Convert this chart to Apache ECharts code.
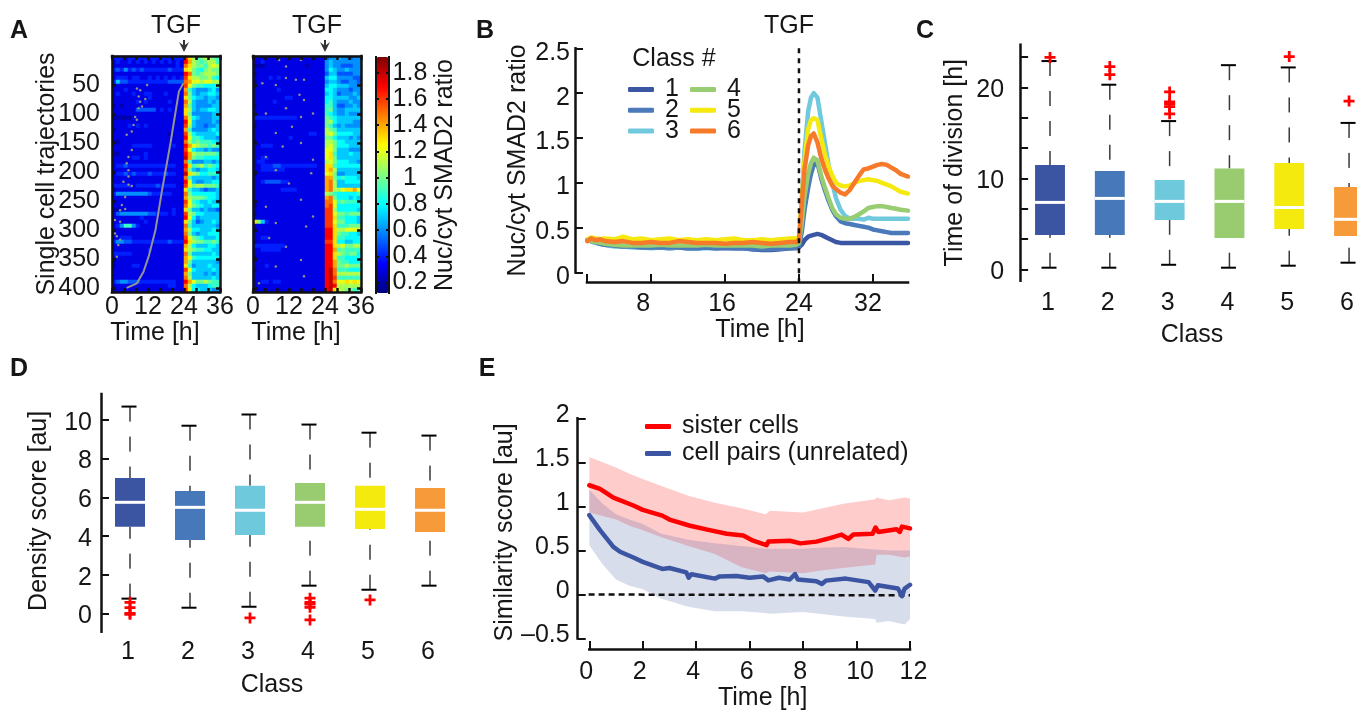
<!DOCTYPE html>
<html><head><meta charset="utf-8">
<style>html,body{margin:0;padding:0;background:#fff}#c{width:1357px;height:712px}</style>
<script src="https://cdn.jsdelivr.net/npm/echarts@6/dist/echarts.min.js"></script>
</head><body><div id="c"></div>
<script>
// ---------- DATA ----------
// Heat map rows: one char per 4/3 h bin, '1'=0.1 ... '9'=0.9, 'A'=1.0 ... 'J'=1.9
const heatLeft = [
"444344444444444444GDB9ABBA9","343343434343434343HEBA9ABB9","333333333333333343FDBAA9BCB","454645454444445444DCA98ABAA",
"333333333333333333HFA9ABBBA","344434433434343434GDBBAAB98","475544444444445555FECCBCCBB","333333333333333333GCA998889",
"333433333333333333E97666786","343334334433343333FA7677887","333333333433333333DA8776776","333333434333334333FB7666767",
"232333333333333333EA7666677","333333555553434333DB7677887","333333333333333333DA6666677","222223333333333333FB8766677",
"333333333333333333HC7666676","333343434333333333GB7665667","233333333333333333E96666787","333333333333332333GB8777778",
"333333333333333333HC9987776","223333333333333333FB9A99987","333334444433333433HECBAA9A9","333333333333333333GC8776766",
"223333334333333333HEBAAAAA9","333334434333333333IEA998888","333333333333333333F96667767","344544444444444433HD9AB9A98",
"333333333333333333GA7677887","344545444544454433IDBA88998","333333333333333333F97777767","333333333333333333HC7667788",
"444443444445444433GCABBAAA9","233333333333333333D97765667","466666666544444333FA8888887","333333333333333333EBAAA9887",
"333333333333333333GC9877876","333333333333333333FCA987788","223333333333333433DA7767665","356666666554443433GBA887777",
"333333343333333333HC8677777","333333334333333333DA7567787","346996433333333333F97777776","333333333333333333EB8877787",
"233333333333333333FA7677888","334443333333333333GCA987778","466554444444445444HDBAA99A9","333333333333333333EB8777887",
"333333333433333333DBA998877","444443333333333333FA7777787","333333333333333333EC9888888","233333333333333333EA7777776",
"233334433333333333D96777877","333333333333333333GC8777787","333333333333333333EA7776767","333333333333333333FB7777787",
"456655544444444433HECAABA99","333333333333334433FB8777899","333333333333333333GC8877766"];
const heatRight = [
"333333333333333333566766566","334333333333333333676666666","222333333333323333676655566","333333333333333333687667666",
"233333333333333333577555566","333343433333333333788666655","233333333333333333677655665","233333333333333333788777666",
"333333433333333333887666566","333333333333333333787566676","333333334433333333887777667","333334333333333333897666766",
"233333333333333333997556676","3333333333333333339A7667777","233333333333333333987667666","444444444443333333A98777777",
"333333333333333333AB8777766","233333333333333333A97676666","333333333333333333BA9777777","333333333333334433BCA888877",
"333333333433333333AA8777676","233333333333333333BBA887777","334443333333333333BCA888777","333333333333333333CCA777666",
"333333333333333333CD9777877","334433333333333333CDA777777","344333333333333333BCA888776","334445544444444433DD9888888",
"334444443333333333DEB777777","233333333333333333CDA667777","333333333333333333EEA898887","334555544333333333EFB778888",
"333333333333333333EFB777777","333333344443333333EFBBCDDEC","333333333333333333BA9888889","333333333333333333EFA888787",
"333333333333333333FFC9A9998","233333333333333333FGC888888","333333333333333333GGB888887","233333333333333333GGCAA9AAA",
"333333333333333333GGD998887","DA7433333333333333GGCAA8887","333333333333333333GGD999AAA","333333333333333333HHDBBCCCC",
"333333333333333333HHDA99887","334433333333333333HHD998888","233333333333333333GGD887788","444444443333333333HHDBCAABB",
"334444433333333333HHE9A9999","333333333333333333HHDBA9AA8","233333333333333333HHD998888","333333333333333333HHEA99888",
"333433333333333333HHEAABAAA","233333333333333333HIF999888","333333333333333333HIFBBBBBB","333333333333333333HIG999999",
"334434433333333333HIFCCDCDC","333333333333333333HIHBBBBBB","333333333333333333HIDBBAA99"];
const divisionCurve = [[4.9,400],[8.3,392],[10.5,372],[12.2,346],[14.5,300],[16.7,231],[19.5,150],[22.3,61],[23.8,47]];
const dotsLeft = [[8.3,56],[9.4,59],[11.7,50],[8.9,70],[11.1,74],[9.4,79],[10,87],[8.9,90],[7.7,105],[8.3,110],[7.2,119],[6.6,130],[4.9,136],[6.6,162],[5.5,174],[4.9,185],[5.5,197],[5.5,208],[3.8,217],[5.5,222],[6.6,224],[4.4,243],[3.3,257],[4.4,264],[2.7,266],[1,283],[2.7,286],[1,306],[1.6,311],[2.7,317],[2.1,326],[1.6,346]];
const dotsRight = [[8.7,7],[11,18],[16,7],[3.1,47],[7.6,50],[11,38],[14.3,41],[17,41],[15.5,67],[17,76],[11,90],[4.3,99],[16,105],[20,99],[13,122],[7.6,133],[16,150],[9.9,156],[4.3,174],[20,179],[7.6,197],[19.4,202],[12,220],[16,248],[4.3,260],[20,277],[7.6,288],[17.7,294],[5.4,314],[11,329],[16,352],[2,392],[17,380],[7.6,363]];
const colorbarTicks = [0.2,0.4,0.6,0.8,1,1.2,1.4,1.6,1.8];
const trajectoryTicks = [50,100,150,200,250,300,350,400];

const timesB = [1.1,1.5,2,2.5,3,4,5,6,7,8,9,10,11,12,13,14,15,16,17,18,19,20,21,22,23,23.7,24,24.3,24.6,25,25.3,25.6,26,26.4,26.8,27.2,27.6,28,28.5,29,29.5,30,30.5,31,31.5,32,32.5,33,33.5,34,34.5,35,35.8];
const class1 = [.36,.35,.33,.32,.31,.30,.29,.29,.28,.28,.28,.27,.28,.27,.27,.28,.27,.27,.27,.27,.26,.25,.25,.26,.27,.27,.28,.31,.36,.40,.41,.42,.43,.42,.40,.38,.36,.34,.33,.33,.33,.33,.33,.33,.33,.33,.33,.33,.33,.33,.33,.33,.33];
const class2 = [.36,.35,.34,.32,.31,.30,.29,.29,.28,.28,.28,.28,.28,.27,.27,.28,.27,.28,.27,.27,.26,.26,.26,.27,.27,.28,.29,.45,.70,.95,1.1,1.2,1.22,1.05,.92,.8,.7,.63,.57,.55,.54,.53,.52,.51,.50,.48,.47,.46,.45,.44,.44,.44,.44];
const class3 = [.36,.35,.33,.32,.31,.29,.29,.28,.28,.27,.28,.27,.28,.27,.27,.27,.27,.28,.27,.28,.27,.27,.27,.27,.28,.28,.3,.8,1.35,1.8,1.95,2.0,1.95,1.7,1.45,1.2,1.0,.83,.7,.63,.6,.6,.6,.59,.61,.6,.6,.6,.6,.6,.6,.6,.6];
const class4 = [.36,.35,.34,.33,.32,.31,.30,.30,.30,.30,.31,.30,.30,.30,.30,.31,.30,.30,.30,.30,.30,.29,.30,.30,.30,.31,.33,.55,.85,1.1,1.22,1.28,1.25,1.08,.95,.83,.72,.65,.61,.6,.6,.62,.65,.68,.72,.73,.74,.74,.73,.72,.71,.70,.69];
const class5 = [.37,.39,.38,.37,.38,.37,.40,.37,.38,.36,.37,.38,.36,.37,.36,.37,.36,.37,.38,.36,.36,.37,.36,.37,.38,.38,.4,.8,1.25,1.6,1.7,1.72,1.7,1.5,1.32,1.18,1.08,1.0,.97,.96,.97,1.0,1.02,1.03,1.04,1.03,1.02,1.0,.98,.96,.93,.9,.88];
const class6 = [.35,.38,.36,.37,.35,.34,.35,.33,.33,.34,.33,.33,.35,.34,.33,.33,.33,.32,.33,.33,.34,.33,.32,.33,.34,.34,.36,.75,1.15,1.42,1.52,1.55,1.45,1.28,1.15,1.05,.97,.93,.89,.87,.92,1.0,1.08,1.15,1.16,1.18,1.2,1.21,1.2,1.17,1.14,1.1,1.07];

const classes = [1,2,3,4,5,6];
const lineColors = ['#3b56a3','#4a7aba','#70c9dc','#98cd72','#f5e90f','#f7792a'];
const boxColors = ['#3b55a2','#4778ba','#6fc9dc','#99cc71','#f4ea0d','#f79a39'];
// Panel C: lower whisker, q1, median, q3, upper whisker
const divLo = [0.18,0.18,0.5,0.18,0.4,0.73];
const divQ1 = [3.77,3.77,5.42,3.44,4.43,3.66];
const divMed = [7.36,7.8,7.47,7.47,6.8,5.5];
const divQ3 = [11.47,10.8,9.82,11.1,11.7,9.05];
const divHi = [22.9,20.3,16.3,22.45,22.2,16.1];
const divOut = [[1,23.3],[2,22.3],[2,21.4],[3,19.5],[3,18.4],[3,18.2],[3,17.9],[3,17.1],[5,23.4],[6,18.5]];
// Panel D
const denLo = [0.76,0.29,0.34,1.43,1.22,1.43];
const denQ1 = [4.47,3.79,4.05,4.47,4.36,4.2];
const denMed = [5.74,5.48,5.33,5.74,5.38,5.33];
const denQ3 = [7.0,6.33,6.59,6.74,6.59,6.48];
const denHi = [10.69,9.7,10.28,9.76,9.34,9.19];
const denOut = [[1,.57],[1,.29],[1,0],[1,-.05],[3,-.24],[4,.78],[4,.57],[4,.47],[4,.31],[4,-.34],[5,.69]];
// Panel E
const sisterT = [0,.4,.9,1.65,2,2.73,3,3.77,4.5,5.14,5.76,6.13,6.63,6.7,7.5,7.9,8.5,9,9.44,9.69,9.88,10.6,10.71,10.81,11.5,11.62,11.7,12];
const sisterV = [1.24,1.2,1.1,1.01,.96,.895,.85,.78,.73,.69,.67,.61,.56,.6,.61,.58,.6,.64,.68,.63,.68,.69,.76,.71,.74,.71,.77,.75];
const pairT = [0,.4,.9,1.15,1.65,2,2.73,3,3.63,3.72,3.82,4.7,4.88,5.5,6,6.5,6.7,7.1,7.5,7.7,7.8,8.5,8.7,8.85,9.6,10.45,10.7,10.8,11.55,11.7,11.8,12];
const pairV = [.9,.73,.54,.485,.42,.37,.29,.3,.25,.19,.23,.18,.205,.21,.19,.205,.16,.19,.17,.23,.17,.15,.12,.157,.18,.14,.045,.105,.067,-.02,.067,.11];
const bandT = [0,.5,1,1.5,2,2.7,3.7,4.7,5.7,6.6,6.75,8,8.6,9.5,10.7,10.75,11.2,11.8,12];
const redTop = [1.56,1.50,1.44,1.37,1.31,1.23,1.12,1.04,.98,.91,.95,.93,.97,1.03,1.08,1.1,1.07,1.10,1.09];
const redBot = [.93,.89,.85,.78,.73,.65,.55,.46,.31,.24,.26,.24,.27,.3,.34,.45,.45,.42,.43];
const blueTop = [1.19,1.03,.91,.85,.80,.69,.62,.58,.55,.52,.52,.52,.53,.54,.51,.51,.5,.5,.5];
const blueBot = [.56,.34,.17,.1,.06,-.05,-.14,-.19,-.19,-.21,-.22,-.2,-.22,-.25,-.28,-.32,-.3,-.34,-.28];

// ---------- HELPERS ----------
const FONT = '"Liberation Sans", Arimo, Helvetica, Arial, sans-serif';
const FS = 25, INK = '#161616';
const zip = (a, b) => a.map((v, i) => [v, b[i]]);
const decode = c => { const i = '123456789ABCDEFGHIJ'.indexOf(c); return (i + 1) / 10; };
const heatData = rows => { const d = []; rows.forEach((r, y) => { for (let x = 0; x < r.length; x++) d.push([x, y, decode(r[x])]); }); return d; };
const range = n => Array.from({length: n}, (_, i) => i);
const hiddenAxis = (gridIndex, n, inverse) => ({type:'category', gridIndex, show:false, data:range(n), inverse:!!inverse});
const lbl = o => Object.assign({color:INK, fontFamily:FONT, fontSize:FS}, o);
const line = (w) => ({show:true, onZero:false, lineStyle:{color:'#111', width:w, cap:'square'}});
const nameStyle = (pad) => ({color:INK, fontFamily:FONT, fontSize:FS, padding:pad || 0});
const richPad = p => ({color:INK, fontFamily:FONT, fontSize:FS, padding:p});
// y tick label nudged down (+) or up (-) from its tick, as in the reference
const yRich = (shift, o) => Object.assign({color:INK, fontFamily:FONT, fontSize:FS,
  formatter:v => '{a|' + String(v).replace('-','\u2013') + '}',
  rich:{a:richPad(shift > 0 ? [shift*2,0,0,0] : [0,0,-shift*2,0])}}, o);

function frameX(grid, bottomOpts) {
  return [
    Object.assign({type:'value', gridIndex:grid, min:0, max:36, interval:4, position:'bottom', z:10, axisLine:line(2.5),
      axisTick:{show:true, inside:true, length:4, lineStyle:{color:'#111', width:2.5}}, splitLine:{show:false}}, bottomOpts),
    {type:'value', gridIndex:grid, min:0, max:36, interval:4, position:'top', z:10, axisLine:line(2.5),
      axisTick:{show:true, inside:true, length:4, lineStyle:{color:'#111', width:2.5}}, axisLabel:{show:false}, splitLine:{show:false}}
  ];
}
function frameY(grid, leftOpts) {
  const t = {show:true, inside:true, length:4, customValues:trajectoryTicks, lineStyle:{color:'#111', width:2.5}};
  return [
    Object.assign({type:'value', gridIndex:grid, min:0, max:407, inverse:true, position:'left', z:10, axisLine:line(2.5), axisTick:t, splitLine:{show:false}}, leftOpts),
    {type:'value', gridIndex:grid, min:0, max:407, inverse:true, position:'right', z:10, axisLine:line(2.5), axisTick:t, axisLabel:{show:false}, splitLine:{show:false}}
  ];
}
function boxRender(colors) {
  return function (params, api) {
    const c = api.value(0);
    const x = api.coord([c, 0])[0];
    const y = k => api.coord([c, api.value(k)])[1];
    const w = api.size([1, 0])[0] * 0.5;
    const lo = y(1), q1 = y(2), med = y(3), q3 = y(4), hi = y(5);
    const dash = {stroke:'#3a3a3a', lineWidth:1.5, lineDash:[15,15]};
    const cap = {stroke:'#000', lineWidth:2};
    return {type:'group', children:[
      {type:'line', shape:{x1:x, y1:hi, x2:x, y2:q3}, style:dash},
      {type:'line', shape:{x1:x, y1:lo, x2:x, y2:q1}, style:dash},
      {type:'line', shape:{x1:x-8.5, y1:hi, x2:x+6.5, y2:hi}, style:cap},
      {type:'line', shape:{x1:x-8.5, y1:lo, x2:x+6.5, y2:lo}, style:cap},
      {type:'rect', shape:{x:x-w/2, y:q3, width:w, height:q1-q3}, style:{fill:colors[params.dataIndex]}},
      {type:'line', shape:{x1:x-w/2, y1:med, x2:x+w/2, y2:med}, style:{stroke:'#fff', lineWidth:3}}
    ]};
  };
}
function bandRender(ts, tops, bots, fill) {
  return function (params, api) {
    const pts = ts.map((t, i) => api.coord([t, tops[i]]));
    for (let i = ts.length - 1; i >= 0; i--) pts.push(api.coord([ts[i], bots[i]]));
    return {type:'polygon', shape:{points:pts}, style:{fill}};
  };
}
const PLUS = 'path://M4.5 0H7.5V12H4.5ZM0 4.5H12V7.5H0Z';
const boxSeries = (name, x, y, arrs, colors) => ({
  type:'custom', name, xAxisIndex:x, yAxisIndex:y, renderItem:boxRender(colors), silent:true, clip:false,
  encode:{x:0, y:[1,2,3,4,5]},
  data:classes.map((c, i) => [c, arrs[0][i], arrs[1][i], arrs[2][i], arrs[3][i], arrs[4][i]])
});
const outSeries = (name, x, y, data) => ({type:'scatter', name, xAxisIndex:x, yAxisIndex:y, symbol:PLUS, symbolSize:11, itemStyle:{color:'#ff0000', opacity:1}, z:5, silent:true, data});
const classLine = (name, color, vals, x, y) => ({type:'line', name, xAxisIndex:x, yAxisIndex:y, symbol:'none', data:zip(timesB, vals), lineStyle:{color, width:4.5, cap:'round', join:'round'}, itemStyle:{color}, silent:true});

// ---------- GRIDS ----------
const grid = [
  {left:112, top:56, width:108, height:236},  // 0 heat left
  {left:112, top:56, width:108, height:236},  // 1 overlay left
  {left:253, top:56, width:108, height:236},  // 2 heat right
  {left:253, top:56, width:108, height:236},  // 3 overlay right
  {left:376, top:57, width:13, height:236},   // 4 colour bar
  {left:587, top:48.3, width:321, height:224.2}, // 5 B
  {left:1020.1, top:44.7, width:336.9, height:236}, // 6 C
  {left:100, top:394, width:360, height:237.7},   // 7 D
  {left:589.3, top:418.3, width:320.7, height:223.4} // 8 E
];

const xAxis = [], yAxis = [];
xAxis.push(hiddenAxis(0, 27)); yAxis.push(hiddenAxis(0, heatLeft.length, true));
const timeLabels = {customValues:[0,12,24,36], margin:3, color:INK, fontFamily:FONT, fontSize:FS};
xAxis.push(...frameX(1, {axisLabel:timeLabels, name:'Time [h]', nameLocation:'middle', nameGap:26, nameTextStyle:nameStyle([0,22,0,0])}));
yAxis.push(...frameY(1, {axisLabel:lbl({customValues:trajectoryTicks, margin:12}), name:'Single cell trajectories', nameLocation:'middle', nameGap:52, nameMoveOverlap:false, nameTextStyle:nameStyle()}));
xAxis.push(hiddenAxis(2, 27)); yAxis.push(hiddenAxis(2, heatRight.length, true));
xAxis.push(...frameX(3, {axisLabel:timeLabels, name:'Time [h]', nameLocation:'middle', nameGap:26, nameTextStyle:nameStyle([0,22,0,0])}));
yAxis.push(...frameY(3, {axisLabel:{show:false}}));
xAxis.push({type:'value', gridIndex:4, min:0, max:1, show:false});
yAxis.push({type:'value', gridIndex:4, min:0.12, max:1.92, position:'right', z:10, axisLine:line(2),
  axisTick:{show:true, inside:true, length:3, customValues:colorbarTicks, lineStyle:{color:'#111', width:2}},
  axisLabel:lbl({customValues:colorbarTicks, margin:21, align:'center'}), splitLine:{show:false},
  name:'Nuc/cyt SMAD2 ratio', nameLocation:'middle', nameRotate:90, nameGap:44, nameTextStyle:nameStyle()});
yAxis.push({type:'value', gridIndex:4, min:0.12, max:1.92, position:'left', z:10, axisLine:line(2),
  axisTick:{show:true, inside:true, length:3, customValues:colorbarTicks, lineStyle:{color:'#111', width:2}}, axisLabel:{show:false}, splitLine:{show:false}});
xAxis.push({type:'value', gridIndex:5, min:1.06, max:35.8, position:'bottom', offset:9.5, axisLine:line(2.5),
  axisTick:{show:true, inside:true, length:8, customValues:[1.06,8,16,24,32], lineStyle:{color:'#111', width:2}},
  axisLabel:{customValues:[8,16,24,32], margin:10, color:INK, fontFamily:FONT, fontSize:FS,
    formatter:v => v===8?'{a|8}':v===16?'{b|16}':v===32?'{d|32}':'{c|24}',
    rich:{a:richPad([0,16,0,0]), b:richPad([0,6,0,0]), c:richPad(0), d:richPad([0,10,0,0])}},
  splitLine:{show:false}, name:'Time [h]', nameLocation:'middle', nameGap:36, nameTextStyle:nameStyle([0,0,0,25])});
yAxis.push({type:'value', gridIndex:5, min:0, max:2.5, interval:.5, position:'left', offset:12, axisLine:line(2.5),
  axisTick:{show:true, inside:true, length:8, lineStyle:{color:'#111', width:2}},
  axisLabel:yRich(4.5, {margin:5}), splitLine:{show:false},
  name:'Nuc/cyt SMAD2 ratio', nameLocation:'middle', nameGap:44, nameTextStyle:nameStyle()});
const divTicks = [0,3.33,6.67,10,13.33,16.67,20,23.33];
xAxis.push({type:'value', gridIndex:6, min:0.5, max:6.1326, axisLine:{show:false}, axisTick:{show:false}, splitLine:{show:false},
  axisLabel:lbl({customValues:classes, margin:10, padding:[0,4,0,0]}), name:'Class', nameLocation:'middle', nameGap:42, nameTextStyle:nameStyle([0,0,0,7])});
yAxis.push({type:'value', gridIndex:6, min:-1.25, max:24.7, position:'left', axisLine:line(2.5),
  axisTick:{show:true, inside:true, length:8, customValues:divTicks, lineStyle:{color:'#111', width:2}},
  axisLabel:yRich(3, {customValues:[0,10,20], margin:16}), splitLine:{show:false},
  name:'Time of division [h]', nameLocation:'middle', nameGap:52, nameTextStyle:nameStyle()});
xAxis.push({type:'value', gridIndex:7, min:0.5, max:6.5, axisLine:{show:false}, axisTick:{show:false}, splitLine:{show:false},
  axisLabel:lbl({customValues:classes, margin:8, padding:[0,4,0,0]}), name:'Class', nameLocation:'middle', nameGap:41, nameTextStyle:nameStyle([0,16,0,0])});
yAxis.push({type:'value', gridIndex:7, min:-0.95, max:11.34, position:'left', offset:-1, axisLine:line(2.5),
  axisTick:{show:true, inside:true, length:8, customValues:[0,2,4,6,8,10], lineStyle:{color:'#111', width:2}},
  axisLabel:yRich(3, {customValues:[0,2,4,6,8,10], margin:9}), splitLine:{show:false},
  name:'Density score [au]', nameLocation:'middle', nameGap:49, nameTextStyle:nameStyle([0,0,0,4])});
xAxis.push({type:'value', gridIndex:8, min:0, max:12, interval:2, position:'bottom', offset:10.6, axisLine:line(2.5),
  axisTick:{show:true, inside:true, length:8, lineStyle:{color:'#111', width:2}},
  axisLabel:{margin:11, color:INK, fontFamily:FONT, fontSize:FS,
    formatter:v => v>=10?'{r|'+v+'}':'{l|'+v+'}',
    rich:{l:richPad([0,6,0,0]), r:richPad([0,0,0,7])}},
  splitLine:{show:false}, name:'Time [h]', nameLocation:'middle', nameGap:36, nameTextStyle:nameStyle([0,0,0,26])});
yAxis.push({type:'value', gridIndex:8, min:-0.5, max:2, interval:.5, position:'left', offset:11.6, axisLine:line(2.5),
  axisTick:{show:true, inside:true, length:8, lineStyle:{color:'#111', width:2}},
  axisLabel:yRich(-3, {margin:8}), splitLine:{show:false},
  name:'Similarity score [au]', nameLocation:'middle', nameGap:46, nameTextStyle:nameStyle([0,8,0,0])});

// ---------- SERIES ----------
const heatSeries = (x, y, rows) => ({type:'heatmap', xAxisIndex:x, yAxisIndex:y, data:heatData(rows), silent:true, progressive:0, animation:false, emphasis:{disabled:true}});
const series = [
  heatSeries(0, 0, heatLeft),
  heatSeries(3, 3, heatRight),
  {type:'line', name:'division time', xAxisIndex:1, yAxisIndex:1, data:divisionCurve, symbol:'none', lineStyle:{color:'#949494', width:2}, silent:true, z:4},
  {type:'scatter', name:'divisions', xAxisIndex:1, yAxisIndex:1, data:dotsLeft, symbolSize:2.5, itemStyle:{color:'#8f8f8f', opacity:1}, silent:true, z:4},
  {type:'scatter', name:'divisions right', xAxisIndex:4, yAxisIndex:4, data:dotsRight, symbolSize:2.5, itemStyle:{color:'#8f8f8f', opacity:1}, silent:true, z:4},
  classLine('1', lineColors[0], class1, 7, 8),
  classLine('3', lineColors[2], class3, 7, 8),
  classLine('5', lineColors[4], class5, 7, 8),
  classLine('2', lineColors[1], class2, 7, 8),
  classLine('4', lineColors[3], class4, 7, 8),
  classLine('6', lineColors[5], class6, 7, 8),
  {type:'line', name:'TGF onset', xAxisIndex:7, yAxisIndex:8, data:[[24,2.5],[24,-0.1]], clip:false, symbol:'none', z:4, silent:true, lineStyle:{color:'#111', width:2.5, type:[5,5]}},
  boxSeries('division', 8, 9, [divLo,divQ1,divMed,divQ3,divHi], boxColors),
  outSeries('division outliers', 8, 9, divOut),
  boxSeries('density', 9, 10, [denLo,denQ1,denMed,denQ3,denHi], boxColors),
  outSeries('density outliers', 9, 10, denOut),
  {type:'custom', name:'sister band', xAxisIndex:10, yAxisIndex:11, silent:true, renderItem:bandRender(bandT, redTop, redBot, 'rgba(255,0,0,0.2)'), encode:{x:0,y:1}, data:[[0,0]], z:1, clip:false},
  {type:'custom', name:'pair band', xAxisIndex:10, yAxisIndex:11, silent:true, renderItem:bandRender(bandT, blueTop, blueBot, 'rgba(59,85,162,0.2)'), encode:{x:0,y:1}, data:[[0,0]], z:1, clip:false},
  {type:'line', name:'zero', xAxisIndex:10, yAxisIndex:11, data:[[-0.4,0],[12,-0.01]], clip:false, symbol:'none', silent:true, z:2, lineStyle:{color:'#111', width:2.5, type:[6,4]}},
  {type:'line', name:'sister cells', xAxisIndex:10, yAxisIndex:11, data:zip(sisterT, sisterV), symbol:'none', silent:true, z:3, itemStyle:{color:'#ff0000'}, lineStyle:{color:'#ff0000', width:4.5, cap:'round', join:'round'}},
  {type:'line', name:'cell pairs (unrelated)', xAxisIndex:10, yAxisIndex:11, data:zip(pairT, pairV), symbol:'none', silent:true, z:3, itemStyle:{color:'#3b55a2'}, lineStyle:{color:'#3b55a2', width:4.5, cap:'round', join:'round'}}
];

const legBase = {orient:'vertical', icon:'roundRect', itemWidth:26, itemHeight:5, padding:0, selectedMode:false,
  textStyle:{color:INK, fontFamily:FONT, fontSize:FS, lineHeight:19, padding:[0,0,0,6]}, itemGap:-4.3, inactiveColor:'#ccc'};
const legend = [
  Object.assign({}, legBase, {left:628, top:77, data:['1','2','3']}),
  Object.assign({}, legBase, {left:690, top:77, data:['4','5','6']}),
  Object.assign({}, legBase, {left:645, top:414, itemGap:2, itemHeight:5, data:['sister cells','cell pairs (unrelated)'],
    textStyle:{color:INK, fontFamily:FONT, fontSize:FS, lineHeight:25, padding:[0,0,0,6]}})
];

const txt = (text, x, y, size, weight) => ({type:'text', x, y, z:20, style:{text, fill:INK, font:(weight||'normal')+' '+(size||FS)+'px '+FONT, textAlign:'center', textVerticalAlign:'middle'}});
const arrow = x => ({type:'polygon', z:20, shape:{points:[[x-1,40],[x+1,40],[x+1,45],[x+5,42],[x,52],[x-5,42],[x-1,45]]}, style:{fill:'#333'}});
const graphic = [
  txt('A',19,31,25,'bold'), txt('B',485,31,25,'bold'), txt('C',925,31,25,'bold'), txt('D',19,369,25,'bold'), txt('E',487,369,25,'bold'),
  txt('TGF',176,26), txt('TGF',317,26), txt('TGF',789,26), txt('Class #',674,59),
  arrow(184), arrow(325)
];

const chart = echarts.init(document.getElementById('c'));
chart.setOption({
  animation:false, backgroundColor:'#fff', textStyle:{fontFamily:FONT}, tooltip:{show:false},
  grid, xAxis, yAxis, series, legend, graphic,
  visualMap:{type:'continuous', seriesIndex:[0,1], min:0.12, max:1.92, left:376, top:57, itemWidth:13, itemHeight:236,
    padding:0, calculable:false, realtime:false, hoverLink:false, text:null, showLabel:false,
    inRange:{color:['#00007f','#0000ff','#007fff','#00ffff','#7fff7f','#ffff00','#ff7f00','#ff0000','#7f0000']}}
});
</script></body></html>
